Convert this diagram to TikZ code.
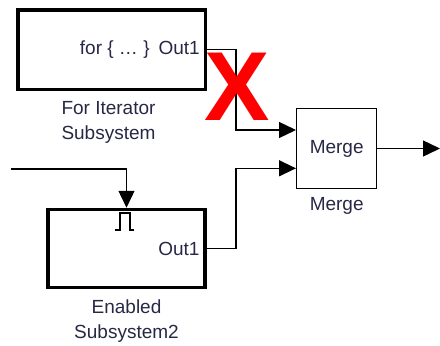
\documentclass[tikz,border=0pt]{standalone}
\usepackage{fontspec}
\setmainfont{Liberation Sans}
\usepackage{xcolor}
\usetikzlibrary{arrows.meta, positioning}

\definecolor{labelink}{RGB}{40,40,70}

\begin{document}
\begin{tikzpicture}[
        x=1pt, y=-1pt,
        >={Triangle[length=17pt,width=16pt]},
        % Style for the thick subsystem blocks
        subsys/.style={draw=black, line width=3.5pt, inner sep=0pt},
        % Style for the thin merge block
        mergebox/.style={draw=black, line width=1.4pt, minimum size=80pt, inner sep=0pt,
            font=\fontsize{19}{23}\selectfont, text=labelink},
        % Style for signal lines
        signal/.style={line width=1.4pt},
        % Style for text labels
        lbl/.style={font=\fontsize{19}{25}\selectfont, text=labelink, align=center, inner sep=0pt}
    ]
    \useasboundingbox (0,0) rectangle (440,346);

        % --- Blocks ---
        \node[subsys, minimum width=187.5pt, minimum height=79.5pt] (forsys) at (111.5,49.75) {};
        \node[subsys, minimum width=157pt, minimum height=78pt] (ensys) at (126.5,248.5) {};
        \node[mergebox] (merge) at (336.7,148.5) {Merge};

        % --- Texts inside the blocks ---
        \node[lbl, anchor=east, xshift=-7pt] (forport) at (forsys.east) {for \{ … \}\hspace{9pt}Out1};
        \node[lbl, anchor=east, xshift=-7pt] (enport) at (ensys.east) {Out1};
        \draw[line width=2pt] (ensys.north) ++(-11.5,22.5) -- ++(4.5,0) -- ++(0,-17) -- ++(10,0)
            -- ++(0,17) -- ++(4.5,0);

        % --- Block names ---
        \node[lbl, below=10pt of forsys, xshift=-3pt] (fortitle) {For Iterator\\Subsystem};
        \node[lbl, below=10pt of ensys] (entitle) {Enabled\\Subsystem2};
        \node[lbl, below=8pt of merge] (mergetitle) {Merge};

        % --- Free ends ---
        \coordinate (enin) at (11,169);
        \coordinate (mergeout) at (merge.east -| 440,0);
        \coordinate (inA) at (merge.west |- 0,130);
        \coordinate (inB) at (merge.west |- 0,168.3);

        % --- Signal lines ---
        \draw[signal, ->] (forsys.east) -- (236,49.75) |- (inA);
        \draw[signal, ->] (ensys.east) -- (236,248.5) |- (inB);
        \draw[signal, ->] (enin) -| (ensys.north);
        \draw[signal, ->] (merge.east) -- (mergeout);

        % --- Red cross ---
        \node[text=red, font=\fontsize{98}{98}\selectfont\bfseries, inner sep=0pt] (cross) at (237.5,87) {X};

    \end{tikzpicture}
\end{document}
